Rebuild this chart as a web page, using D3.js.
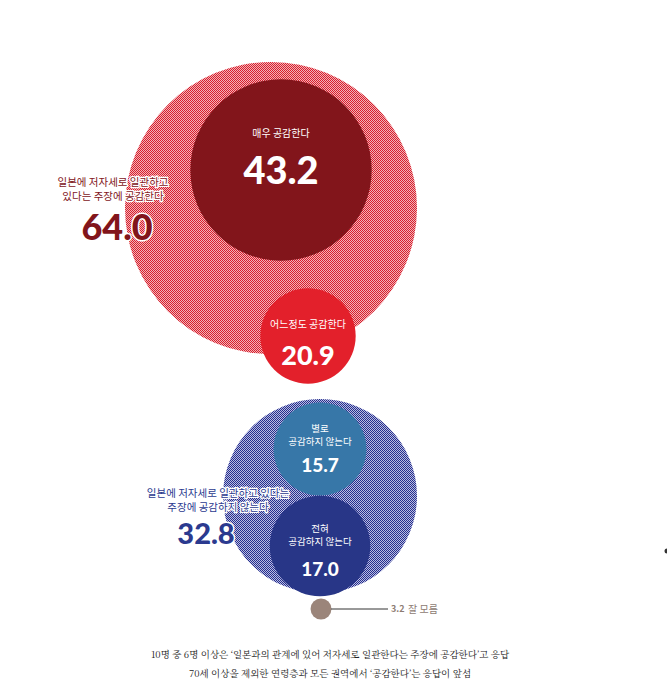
<!DOCTYPE html>
<html><head><meta charset="utf-8">
<script src="https://cdn.jsdelivr.net/npm/d3@7"></script>
<style>body{margin:0;background:#fff}svg{font-family:"Noto Sans CJK KR","Noto Sans",sans-serif}</style>
</head><body><svg id="c" width="667" height="689"></svg>
<script>
const groupLabels = ["일본에 저자세로 일관하고|있다는 주장에 공감한다", "일본에 저자세로 일관하고 있다는|주장에 공감하지 않는다"];
const groupValues = [64.0, 32.8];
const subLabels = ["매우 공감한다", "어느정도 공감한다", "별로|공감하지 않는다", "전혀|공감하지 않는다"];
const subValues = [43.2, 20.9, 15.7, 17.0];
const unknownLabel = "잘 모름";
const unknownValue = 3.2;
const notes = ["10명 중 6명 이상은 ‘일본과의 관계에 있어 저자세로 일관한다는 주장에 공감한다’고 응답", "70세 이상을 제외한 연령층과 모든 권역에서 ‘공감한다’는 응답이 앞섬"];

const svg = d3.select("#c");
const defs = svg.append("defs");
function pat(id, col, bg){
  const p = defs.append("pattern").attr("id",id).attr("width",2).attr("height",2).attr("patternUnits","userSpaceOnUse");
  p.append("rect").attr("width",2).attr("height",2).attr("fill",bg);
  p.append("rect").attr("width",1).attr("height",1).attr("fill",col);
  p.append("rect").attr("x",1).attr("y",1).attr("width",1).attr("height",1).attr("fill",col);
}
pat("pr","#d91e2c","#f1b3b8"); pat("pb","#262e8c","#b9bde2");
const rRed = d3.scaleLinear().domain([0,64]).range([0,146]);
const rBlue = d3.scaleLinear().domain([0,32.8]).range([0,97]);

const groups = [
  {v:groupValues[0], r:rRed(groupValues[0]), cx:271, cy:208, fill:"url(#pr)"},
  {v:groupValues[1], r:rBlue(groupValues[1]), cx:320, cy:496, fill:"url(#pb)"}
];
svg.selectAll("circle.g").data(groups).join("circle").attr("class","g")
  .attr("cx",d=>d.cx).attr("cy",d=>d.cy).attr("r",d=>d.r).attr("fill",d=>d.fill);

const subs = [
  {cx:281,cy:170,r:rRed(subValues[0])*0.92,fill:"#82151b",ly:-33,ny:14,fs:38,lf:10},
  {cx:308,cy:336,r:rRed(subValues[1]),fill:"#e3202b",ly:-8,ny:29,fs:27,lf:10},
  {cx:320,cy:449,r:rBlue(subValues[2]),fill:"#3777a8",ly:-17,ny:23,fs:19,lf:9.5},
  {cx:320,cy:546,r:rBlue(subValues[3]),fill:"#283687",ly:-14,ny:30,fs:19,lf:9.5}
];
subs.forEach((s,i)=>{
  svg.append("circle").attr("cx",s.cx).attr("cy",s.cy).attr("r",s.r).attr("fill",s.fill);
  const lines = subLabels[i].split("|");
  lines.forEach((t,j)=>svg.append("text").attr("x",s.cx).attr("y",s.cy+s.ly+j*13)
    .attr("text-anchor","middle").attr("fill","#fff").attr("font-size",s.lf).text(t));
  svg.append("text").attr("x",s.cx).attr("y",s.cy+s.ny)
    .attr("text-anchor","middle").attr("fill","#fff").attr("font-size",s.fs)
    .attr("font-weight",900).attr("font-family","Lato, sans-serif").text(subValues[i].toFixed(1));
});

svg.append("circle").attr("cx",321).attr("cy",609).attr("r",rBlue(unknownValue)+1).attr("fill","#9b857a");
svg.append("line").attr("x1",331).attr("x2",388).attr("y1",609).attr("y2",609).attr("stroke","#333").attr("stroke-width",1);
svg.append("text").attr("x",391).attr("y",612).attr("font-size",9).attr("fill","#8d7b72").attr("font-weight",700).text(unknownValue.toFixed(1));
svg.append("text").attr("x",408).attr("y",613).attr("font-size",10).attr("fill","#8d7b72").text(unknownLabel);

const gl = [{x:113,y:186,col:"#82151b"},{x:218,y:497,col:"#2b3a8f"}];
gl.forEach((g,i)=>{
  groupLabels[i].split("|").forEach((t,j)=>svg.append("text").attr("x",g.x).attr("y",g.y+j*14)
    .attr("text-anchor","middle").attr("font-size",10.5).attr("fill",g.col)
    .attr("stroke","#fff").attr("stroke-width",2.5).attr("paint-order","stroke").text(t));
});
svg.append("text").attr("x",117).attr("y",240).attr("text-anchor","middle").attr("font-size",36).attr("font-weight",900)
  .attr("font-family","Lato, sans-serif").attr("fill","#82151b").attr("stroke","#fff").attr("stroke-width",3).attr("paint-order","stroke").text(groupValues[0].toFixed(1));
svg.append("text").attr("x",206).attr("y",544).attr("text-anchor","middle").attr("font-size",29).attr("font-weight",900)
  .attr("font-family","Lato, sans-serif").attr("fill","#2b3a8f").attr("stroke","#fff").attr("stroke-width",3).attr("paint-order","stroke").text(groupValues[1].toFixed(1));

notes.forEach((t,i)=>svg.append("text").attr("x",330).attr("y",658+i*19).attr("text-anchor","middle")
  .attr("font-size",9.5).attr("fill","#222").attr("font-family","'Noto Serif CJK KR','Noto Sans CJK KR',serif").text(t));
svg.append("circle").attr("cx",667).attr("cy",551).attr("r",2.5).attr("fill","#333");
</script></body></html>
